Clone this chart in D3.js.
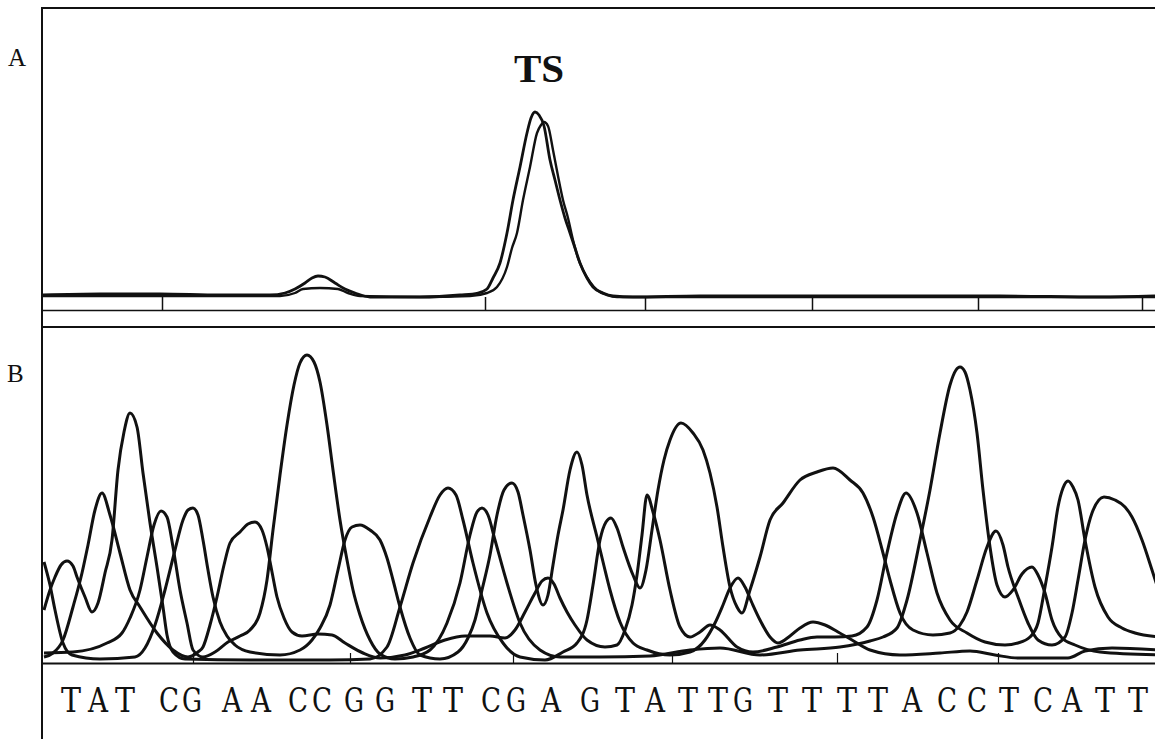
<!DOCTYPE html>
<html><head><meta charset="utf-8">
<script src="https://cdn.jsdelivr.net/npm/d3@7"></script>
<style>
html,body{margin:0;padding:0;background:#fff;} svg{display:block;}
.serif{font-family:"Liberation Serif","Times New Roman",Times,serif;}
.slab{font-family:"DejaVu Serif",serif;}
</style>
</head><body>
<svg id="chart" width="1155" height="739"></svg>
<script>
// ---------- data (scan position, signal) ----------
const panelLabels = ["A", "B"];
const peakLabel = "TS";
const bases = ["T","A","T","C","G","A","A","C","C","G","G","T","T","C","G","A","G","T","A","T","T","G","T","T","T","T","A","C","C","T","C","A","T","T"];
const basePos = [29,56,83,127,150,190,219,256,280,312,343,380,411,449,474,509,548,583,613,646,676,701,736,770,805,836,870,905,935,967,1001,1030,1063,1096];
const ticksA = [120, 443, 603, 770, 936, 1100];
const ticksB = [151, 308, 471, 630, 795, 956];

// Panel A: two overlaid traces
const traceA1 = [[0,3],[58,4],[118,4],[178,3],[228,3],[243,5],[253,9],[263,15],[270,20],[276,22],[283,21],[293,15],[303,9],[313,5],[328,1],[378,1],[418,3],[436,5],[445,9],[451,20],[458,35],[465,65],[471,98],[478,131],[485,165],[489,180],[493,186],[497,183],[502,172],[508,138],[513,118],[518,98],[523,80],[528,65],[533,50],[538,35],[545,20],[551,11],[561,5],[571,2],[591,1],[658,2],[758,2],[858,2],[958,2],[1058,1],[1113,2]];
const traceA2 = [[0,2],[58,2],[158,2],[238,2],[253,5],[261,9],[278,10],[296,9],[306,5],[318,2],[378,1],[428,2],[445,5],[455,11],[465,31],[470,50],[475,65],[481,98],[488,131],[495,165],[499,173],[502,176],[506,172],[511,148],[516,122],[521,98],[526,80],[531,58],[536,40],[541,28],[548,16],[555,8],[565,3],[575,1],[658,1],[1113,1]];

// Panel B: four base channels
const chanT = [[2,53],[8,73],[13,86],[19,98],[25,102],[31,97],[35,86],[43,66],[50,51],[56,60],[63,90],[70,123],[76,193],[82,231],[88,250],[95,236],[101,190],[108,140],[115,96],[121,56],[125,28],[131,11],[143,4],[208,3],[288,3],[328,4],[345,16],[358,56],[371,100],[388,146],[398,168],[406,175],[414,168],[421,143],[431,100],[445,50],[461,20],[478,6],[503,3],[521,11],[535,20],[545,43],[551,78],[558,123],[564,141],[569,145],[575,135],[581,116],[591,88],[598,75],[604,93],[610,133],[616,173],[622,203],[628,223],[639,240],[651,230],[661,213],[668,190],[675,156],[681,116],[688,76],[695,56],[700,50],[708,73],[718,106],[728,143],[741,160],[758,183],[775,191],[791,195],[808,183],[821,170],[831,146],[841,110],[848,83],[858,50],[871,33],[891,28],[908,30],[918,38],[925,51],[935,83],[945,116],[954,132],[961,118],[966,96],[976,66],[986,40],[996,23],[1010,18],[1023,26],[1030,50],[1036,83],[1043,123],[1050,150],[1062,166],[1073,163],[1083,156],[1090,146],[1100,123],[1110,93],[1118,68]];
const chanA = [[2,6],[11,10],[21,23],[31,56],[40,90],[46,118],[53,153],[60,170],[68,148],[78,110],[88,73],[98,56],[115,30],[131,13],[146,6],[156,11],[161,16],[168,38],[175,66],[182,98],[188,120],[198,131],[206,139],[213,141],[220,133],[225,116],[230,91],[235,66],[242,45],[250,31],[260,27],[276,29],[290,28],[303,20],[321,10],[338,5],[363,8],[383,15],[403,23],[423,27],[448,27],[463,25],[473,33],[483,51],[493,70],[500,82],[506,85],[512,79],[518,65],[525,51],[533,38],[545,23],[563,16],[575,18],[583,33],[590,58],[595,88],[600,128],[605,168],[611,151],[618,123],[628,73],[638,36],[648,26],[658,31],[668,38],[678,33],[695,16],[711,11],[735,16],[758,23],[775,26],[793,26],[810,27],[825,36],[835,63],[845,110],[855,150],[864,170],[875,150],[885,110],[895,70],[908,43],[925,30],[943,21],[963,18],[976,20],[988,26],[996,40],[1003,76],[1010,116],[1016,156],[1021,175],[1026,182],[1031,176],[1036,163],[1043,123],[1053,76],[1066,46],[1080,35],[1093,30],[1118,26]];
const chanC = [[2,10],[31,11],[65,20],[80,30],[88,45],[98,73],[105,106],[112,138],[119,152],[125,146],[131,116],[138,73],[145,40],[151,13],[161,6],[173,11],[186,21],[198,27],[208,33],[218,50],[225,83],[231,133],[238,188],[245,238],[252,278],[258,300],[265,308],[272,301],[278,281],[285,238],[291,193],[298,143],[305,103],[311,73],[318,48],[328,23],[338,9],[353,4],[371,6],[388,13],[405,40],[418,80],[428,128],[435,151],[440,155],[446,148],[453,123],[465,80],[478,40],[498,13],[518,6],[558,6],[608,7],[648,13],[678,15],[718,8],[758,13],[798,16],[828,22],[841,26],[855,35],[865,63],[878,123],[888,173],[898,230],[908,278],[914,293],[918,296],[923,291],[928,273],[935,230],[941,173],[948,116],[955,78],[963,66],[971,73],[980,89],[990,96],[996,88],[1003,70],[1010,43],[1020,25],[1033,18],[1058,11],[1118,8]];
const chanG = [[2,101],[8,78],[13,53],[21,20],[30,8],[58,4],[93,6],[103,15],[113,38],[123,73],[133,113],[141,143],[146,153],[151,155],[156,148],[161,123],[166,93],[171,66],[178,41],[185,27],[193,18],[208,11],[238,8],[258,13],[270,23],[278,35],[288,58],[296,93],[303,123],[310,136],[318,138],[328,133],[338,123],[345,105],[351,83],[358,56],[368,25],[378,8],[398,4],[416,11],[426,25],[433,43],[440,73],[448,108],[455,148],[462,173],[470,180],[476,171],[481,148],[488,113],[494,78],[501,58],[506,68],[511,98],[516,128],[521,153],[528,193],[535,211],[540,198],[545,168],[555,126],[562,97],[568,73],[578,41],[591,20],[605,13],[628,8],[648,11],[663,23],[673,40],[681,58],[688,75],[696,85],[703,76],[710,60],[718,43],[728,26],[736,20],[748,27],[758,35],[771,41],[783,38],[796,31],[810,23],[828,13],[858,8],[898,10],[928,12],[953,8],[976,5],[1026,5],[1043,12],[1070,15],[1118,13]];
const channels = [chanA, chanC, chanG, chanT];

// ---------- drawing ----------
const svg = d3.select("#chart");
const W = 1155, H = 739;
const x = d3.scaleLinear().domain([0, 1113]).range([42, 1155]);
const yA = d3.scaleLinear().domain([0, 186]).range([298, 112]);
const yB = d3.scaleLinear().domain([0, 320]).range([663, 343]);

svg.append("rect").attr("width", W).attr("height", H).attr("fill", "#fff");

const defs = svg.append("defs");
defs.append("clipPath").attr("id", "clipA").append("rect").attr("x", 43).attr("y", 9).attr("width", 1112).attr("height", 317);
defs.append("clipPath").attr("id", "clipB").append("rect").attr("x", 43).attr("y", 328).attr("width", 1112).attr("height", 340);

// frame
const ink = "#111";
svg.append("line").attr("x1", 42).attr("x2", 42).attr("y1", 7).attr("y2", H).attr("stroke", ink).attr("stroke-width", 2);
svg.append("line").attr("x1", 41).attr("x2", W).attr("y1", 8).attr("y2", 8).attr("stroke", ink).attr("stroke-width", 2);
svg.append("line").attr("x1", 42).attr("x2", W).attr("y1", 327).attr("y2", 327).attr("stroke", ink).attr("stroke-width", 2);

// axes
const axA = svg.append("g").attr("transform", "translate(0,310)")
  .call(d3.axisTop(x).tickValues(ticksA).tickSize(13).tickSizeOuter(0).tickFormat(""));
axA.selectAll("path,line").attr("stroke", ink).attr("stroke-width", 1.5);
const axB = svg.append("g").attr("transform", "translate(0,663)")
  .call(d3.axisTop(x).tickValues(ticksB).tickSize(10).tickSizeOuter(0).tickFormat(""));
axB.select("path").attr("stroke", ink).attr("stroke-width", 2.2);
axB.selectAll("line").attr("stroke", ink).attr("stroke-width", 1.2);

// panel A traces
const lineA = d3.line().x(d => x(d[0])).y(d => yA(d[1])).curve(d3.curveMonotoneX);
const gA = svg.append("g").attr("clip-path", "url(#clipA)");
[traceA1, traceA2].forEach((t, i) => {
  gA.append("path").attr("d", lineA(t)).attr("fill", "none").attr("stroke", ink)
    .attr("stroke-width", i === 0 ? 2.8 : 2.4).attr("stroke-linejoin", "round");
});

// panel B traces
const lineB = d3.line().x(d => x(d[0])).y(d => yB(d[1])).curve(d3.curveMonotoneX);
const gB = svg.append("g").attr("clip-path", "url(#clipB)");
channels.forEach(c => {
  gB.append("path").attr("d", lineB(c)).attr("fill", "none").attr("stroke", ink)
    .attr("stroke-width", 3).attr("stroke-linejoin", "round");
});

// texts
svg.append("text").attr("class", "serif").attr("x", 8).attr("y", 66).text(panelLabels[0])
  .attr("font-size", 25).attr("fill", ink);
svg.append("text").attr("class", "serif").attr("x", 7).attr("y", 382).text(panelLabels[1])
  .attr("font-size", 25).attr("fill", ink);
svg.append("text").attr("class", "serif").attr("x", 539).attr("y", 82).attr("text-anchor", "middle").text(peakLabel)
  .attr("font-weight", "bold").attr("font-size", 41).attr("fill", ink);

svg.append("g").selectAll("text").data(bases).join("text")
  .attr("class", "slab")
  .attr("x", (d, i) => x(basePos[i])).attr("y", 712)
  .attr("text-anchor", "middle")
  .attr("font-size", 33).attr("fill", ink)
  .attr("textLength", 20).attr("lengthAdjust", "spacingAndGlyphs")
  .text(d => d);
</script>
</body></html>
